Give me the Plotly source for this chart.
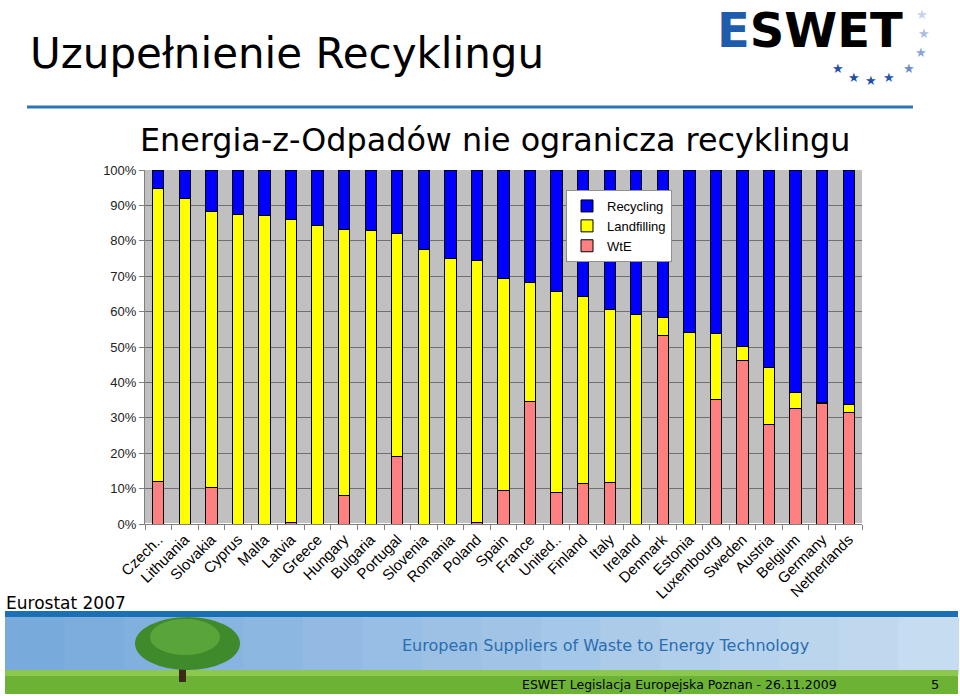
import plotly.graph_objects as go

countries = ["Czech..", "Lithuania", "Slovakia", "Cyprus", "Malta", "Latvia", "Greece",
             "Hungary", "Bulgaria", "Portugal", "Slovenia", "Romania", "Poland", "Spain",
             "France", "United..", "Finland", "Italy", "Ireland", "Denmark", "Estonia",
             "Luxembourg", "Sweden", "Austria", "Belgium", "Germany", "Netherlands"]
wte = [12.0, 0.0, 10.4, 0.0, 0.0, 0.4, 0.0, 8.0, 0.0, 19.0, 0.0, 0.0, 0.4, 9.5,
       34.7, 8.9, 11.4, 11.7, 0.0, 53.2, 0.0, 35.2, 46.2, 28.0, 32.7, 33.9, 31.6]
landfilling = [82.8, 92.0, 78.0, 87.3, 87.1, 85.5, 84.2, 75.1, 82.9, 63.1, 77.5, 74.9,
               74.1, 59.8, 33.4, 56.9, 52.8, 49.0, 59.3, 5.0, 54.2, 18.6, 4.0, 16.1,
               4.4, 0.4, 2.2]
recycling = [100 - a - b for a, b in zip(wte, landfilling)]
y_ticks = list(range(0, 101, 10))

# plot area in pixels
L, R, T, B = 145, 862, 170, 524


def px(x):
    return (x - L) / (R - L)


def py(y):
    return (B - y) / (B - T)


fig = go.Figure()
fig.add_trace(go.Bar(name="WtE", x=countries, y=wte, marker=dict(color="#ff8080", line=dict(color="black", width=1))))
fig.add_trace(go.Bar(name="Landfilling", x=countries, y=landfilling, marker=dict(color="#ffff00", line=dict(color="black", width=1))))
fig.add_trace(go.Bar(name="Recycling", x=countries, y=recycling, marker=dict(color="#0000ff", line=dict(color="black", width=1))))

fig.update_layout(
    width=960, height=696,
    margin=dict(l=L, r=960 - R, t=T, b=696 - B),
    paper_bgcolor="white", plot_bgcolor="#c0c0c0",
    barmode="stack", bargap=0.57,
    font=dict(family="Liberation Sans, Arial", color="black"),
    xaxis=dict(tickangle=-45, tickfont=dict(size=15, family="Liberation Sans, Arial"),
               ticks="outside", ticklen=5, tickcolor="#808080", tickson="boundaries",
               showline=True, linecolor="#808080", showgrid=False),
    yaxis=dict(range=[0, 100], tickvals=y_ticks, ticktext=[f"{v}%" for v in y_ticks],
               tickfont=dict(size=13, color="#222"), ticks="outside", ticklen=5,
               tickcolor="#808080", showline=True, linecolor="#808080",
               gridcolor="#707070", gridwidth=1),
    legend=dict(x=px(566), y=py(190), xanchor="left", yanchor="top", traceorder="reversed",
                bgcolor="white", bordercolor="#909090", borderwidth=1,
                font=dict(size=13), itemwidth=30, tracegroupgap=0),
    showlegend=True,
)

shapes = []
shapes.append(dict(type="line", xref="paper", yref="paper", x0=px(27), x1=px(913), y0=py(107), y1=py(107),
                   line=dict(color="#2e75b6", width=3)))
shapes.append(dict(type="rect", xref="paper", yref="paper", x0=px(5), x1=px(958), y0=py(611), y1=py(617),
                   fillcolor="#1a6fb5", line=dict(width=0)))
n = 16
for i in range(n):
    t = i / (n - 1)
    r = int(0x78 + (0xc6 - 0x78) * t)
    g = int(0xaa + (0xdc - 0xaa) * t)
    b = int(0xdc + (0xf0 - 0xdc) * t)
    shapes.append(dict(type="rect", xref="paper", yref="paper", x0=px(5 + i * 953 / n),
                       x1=px(5 + (i + 1) * 953 / n + 1), y0=py(617), y1=py(675),
                       fillcolor=f"rgb({r},{g},{b})", line=dict(width=0)))
shapes.append(dict(type="rect", xref="paper", yref="paper", x0=px(5), x1=px(958), y0=py(672), y1=py(694),
                   fillcolor="#6cb335", line=dict(width=0)))
shapes.append(dict(type="rect", xref="paper", yref="paper", x0=px(5), x1=px(958), y0=py(670), y1=py(676),
                   fillcolor="#8cc850", line=dict(width=0)))
shapes.append(dict(type="rect", xref="paper", yref="paper", x0=px(179), x1=px(186), y0=py(650), y1=py(682),
                   fillcolor="#3b2a1a", line=dict(width=0)))
shapes.append(dict(type="circle", xref="paper", yref="paper", x0=px(135), x1=px(240), y0=py(617), y1=py(670),
                   fillcolor="#3f8a2a", line=dict(width=0)))
shapes.append(dict(type="circle", xref="paper", yref="paper", x0=px(150), x1=px(220), y0=py(619), y1=py(655),
                   fillcolor="#5aa53a", line=dict(width=0)))
fig.update_layout(shapes=shapes)


def txt(text, x, y, size, color="black", anchor="left", weight="normal", family="DejaVu Sans"):
    return dict(text=text, xref="paper", yref="paper", x=px(x), y=py(y), xanchor=anchor,
                yanchor="middle", showarrow=False,
                font=dict(family=family, size=size, color=color, weight=weight))


ann = [
    txt("Uzupełnienie Recyklingu", 28, 53, 42),
    txt("Energia-z-Odpadów nie ogranicza recyklingu", 138, 139, 31.8),
    txt("Eurostat 2007", 4, 603, 17),
    txt("European Suppliers of Waste to Energy Technology", 400, 645, 16, "#2a6db0"),
    txt("ESWET Legislacja Europejska Poznan - 26.11.2009", 520, 684, 12.5),
    txt("5", 935, 684, 13, anchor="center"),
    txt("<span style='color:#1f5cab'>E</span>SWET", 715, 30, 48, weight="bold"),
]
star_x = [922, 924, 921, 909, 889, 871, 854, 838]
star_y = [14, 33, 52, 68, 78, 80, 78, 68]
star_c = ["#c5d3ea", "#a9bde0", "#8aa5d6", "#6a8cca", "#2458b0", "#1f4fa8", "#1f4fa8", "#1f4fa8"]
for sx, sy, sc in zip(star_x, star_y, star_c):
    ann.append(txt("★", sx, sy, 13, sc, anchor="center"))
fig.update_layout(annotations=ann)

fig.write_html("out.html")
